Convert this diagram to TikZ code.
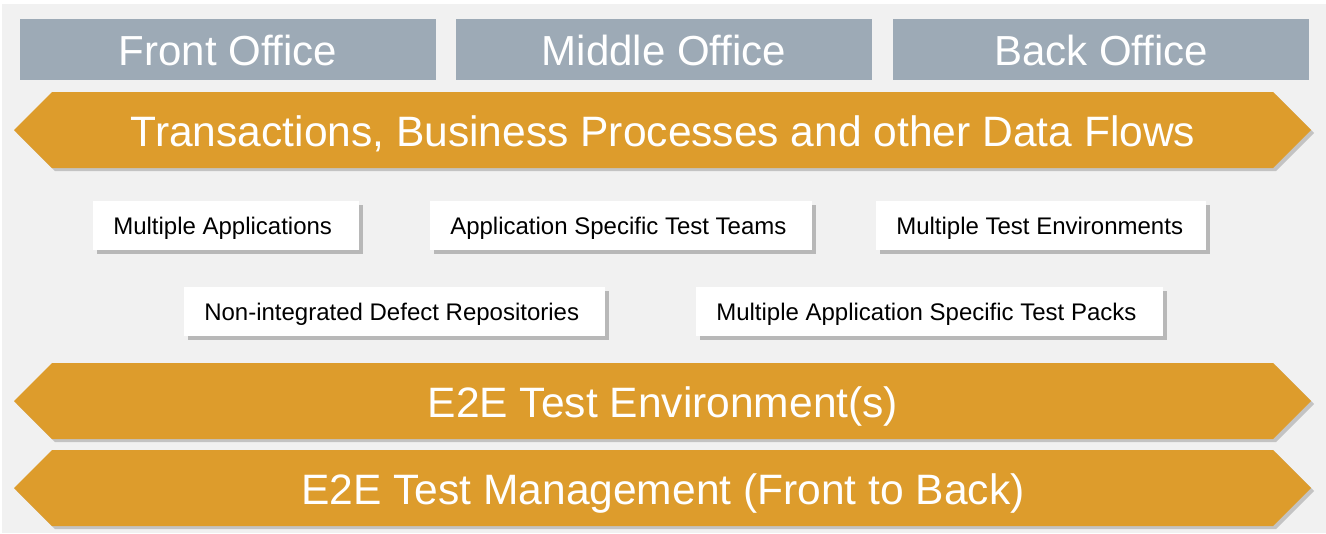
\documentclass[tikz,border=0pt]{standalone}
\usepackage{fontspec}
\setmainfont{Liberation Sans}
\definecolor{bggray}{HTML}{F1F1F1}
\definecolor{officegray}{HTML}{9DAAB6}
\definecolor{bandorange}{HTML}{DD9C2C}
\definecolor{shadowgray}{HTML}{808080}
\tikzset{
  officebox/.style={fill=officegray, draw=none},
  officetext/.style={text=white, font=\fontsize{31.5}{36}\selectfont, inner sep=0pt, anchor=base},
  band/.style={fill=bandorange, draw=none},
  bandshadow/.style={fill=shadowgray, fill opacity=0.4, draw=none},
  bandtext/.style={text=white, font=\fontsize{31.9}{36}\selectfont, inner sep=0pt, anchor=base},
  issuebox/.style={fill=white, draw=none},
  issueshadow/.style={fill=shadowgray, fill opacity=0.5, draw=none},
  issuetext/.style={text=black, font=\fontsize{18}{21}\selectfont, inner sep=0pt, anchor=base west}
}
\newcommand{\bandpath}[2]{(52,#1) -- (1273,#1) -- (1311,{(#1+#2)/2}) -- (1273,#2) -- (52,#2) -- (14,{(#1+#2)/2}) -- cycle}
\begin{document}
\begin{tikzpicture}[x=0.75pt,y=-0.75pt]
\useasboundingbox (0,0) rectangle (1326,533);
\fill[white] (0,0) rectangle (1326,533);
\fill[bggray] (2,4) rectangle (1326,533);

% office headers
\fill[officebox] (20,19) rectangle (436,80);
\fill[officebox] (456,19) rectangle (872,80);
\fill[officebox] (893,19) rectangle (1309,80);
\node[officetext] (front) at (228,65.7) {Front Office};
\node[officetext] (middle) at (664,65.7) {Middle Office};
\node[officetext] (back) at (1101,65.7) {Back Office};

% bands
\foreach \t/\b in {92/168, 363/439, 450/526}{
  \fill[bandshadow] [shift={(3,3)}] \bandpath{\t}{\b};
  \fill[band] \bandpath{\t}{\b};
}
\node[bandtext] (flows) at (663,146.5) {Transactions, Business Processes and other Data Flows};
\node[bandtext] (env) at (663,417.5) {E2E Test Environment(s)};
\node[bandtext] (mgmt) at (663,504.5) {E2E Test Management (Front to Back)};

% issue boxes
\foreach \xa/\ya/\xb/\yb in {93/201/359/250, 430/201/812/250, 876/201/1206/250, 184/287/605/336, 696/287/1163/336}{
  \fill[issueshadow] (\xa+4,\ya+4) rectangle (\xb+4,\yb+4);
  \fill[issuebox] (\xa,\ya) rectangle (\xb,\yb);
}
\node[issuetext] (apps) at (113,234.3) {Multiple Applications};
\node[issuetext] (teams) at (450,234.3) {Application Specific Test Teams};
\node[issuetext] (envs) at (896,234.3) {Multiple Test Environments};
\node[issuetext] (defects) at (204,320.3) {Non-integrated Defect Repositories};
\node[issuetext] (packs) at (716,320.3) {Multiple Application Specific Test Packs};
\end{tikzpicture}
\end{document}
